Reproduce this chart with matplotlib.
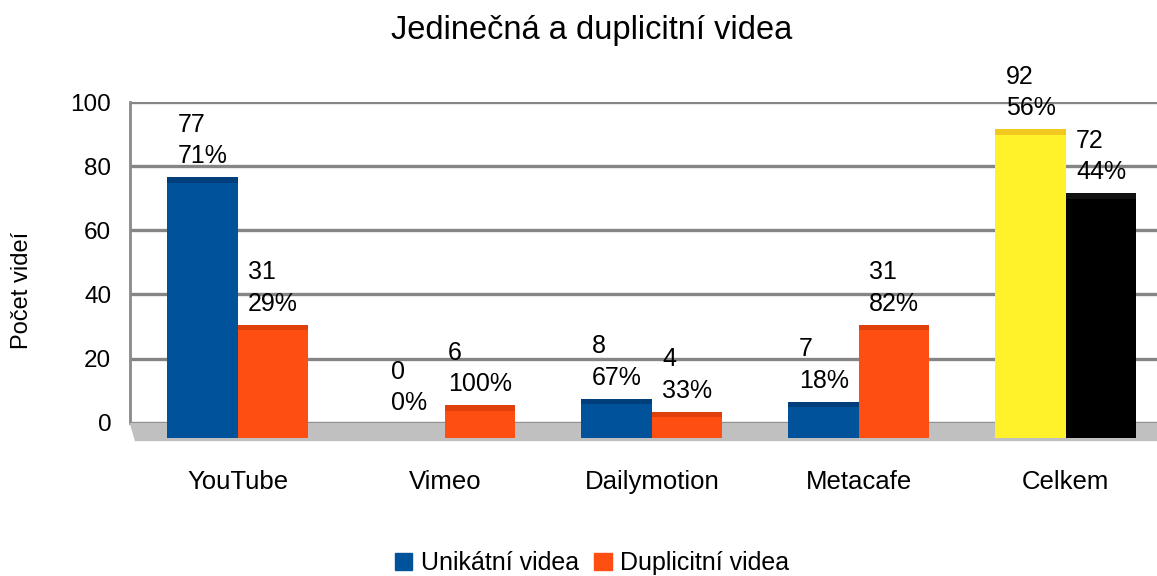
import numpy as np
import matplotlib
matplotlib.use("Agg")
import matplotlib.pyplot as plt
from matplotlib.patches import Patch

plt.rcParams['font.family'] = ['Liberation Sans', 'DejaVu Sans']

categories = ['YouTube', 'Vimeo', 'Dailymotion', 'Metacafe', 'Celkem']
unique = [77, 0, 8, 7, 92]
duplicate = [31, 6, 4, 31, 72]
unique_pct = ['71%', '0%', '67%', '18%', '56%']
duplicate_pct = ['29%', '100%', '33%', '82%', '44%']
yticks = [0, 20, 40, 60, 80, 100]

# colours (last category "Celkem" uses yellow / black)
c_unique = ['#00529b'] * 4 + ['#fff22a']
c_unique_top = ['#003f7c'] * 4 + ['#f0c820']
c_dup = ['#ff4e11'] * 4 + ['#000000']
c_dup_top = ['#e0400c'] * 4 + ['#111111']

# fake 3d: bar front starts below the wall zero line, top face sits slightly back
floor = 4.7
drop = 2.2
cap = 1.7
w = 0.34

fig = plt.figure(figsize=(11.57, 5.76), dpi=100)
ax = fig.add_axes([130 / 1157, 1 - 442 / 576, 1 - 130 / 1157, 340 / 576])

x = np.arange(len(categories))
ax.set_xlim(-0.52, 4.44)
ax.set_ylim(-6, 100)

# back wall grid
for t in yticks:
    ax.axhline(t, color='#858585', lw=2.4, zorder=1)
ax.plot([-0.52, -0.52], [0, 100], color='#8a8a8a', lw=2, zorder=1, clip_on=False)

# floor
ax.fill([-0.52, 4.44, 4.44, -0.495], [0, 0, -5.3, -5.3], color='#c0c0c0', zorder=2)

u = np.array(unique, dtype=float)
d = np.array(duplicate, dtype=float)
u_h = np.where(u > 0, u - drop + floor, 0)
d_h = np.where(d > 0, d - drop + floor, 0)
ax.bar(x - w / 2, u_h, bottom=-floor, width=w, color=c_unique, zorder=3)
ax.bar(x + w / 2, d_h, bottom=-floor, width=w, color=c_dup, zorder=3)
ax.bar(x - w / 2, np.where(u > 0, cap, 0), bottom=u - drop, width=w, color=c_unique_top, zorder=3)
ax.bar(x + w / 2, np.where(d > 0, cap, 0), bottom=d - drop, width=w, color=c_dup_top, zorder=3)

for i in range(len(categories)):
    ax.text(x[i] - w / 2, unique[i] + 2.3, f"{unique[i]}\n{unique_pct[i]}",
            ha='center', va='bottom', multialignment='left', fontsize=18,
            linespacing=1.4, zorder=5, clip_on=False)
    ax.text(x[i] + w / 2, duplicate[i] + 2.3, f"{duplicate[i]}\n{duplicate_pct[i]}",
            ha='center', va='bottom', multialignment='left', fontsize=18,
            linespacing=1.4, zorder=5, clip_on=False)

for s in ax.spines.values():
    s.set_visible(False)
ax.set_yticks(yticks)
ax.set_yticklabels([str(t) for t in yticks], fontsize=17.5)
ax.set_xticks(x)
ax.set_xticklabels(categories, fontsize=18.5)
ax.tick_params(axis='y', length=0, pad=13.5)
ax.tick_params(axis='x', length=0, pad=20)

fig.text(592 / 1157, 1 - 30 / 576, 'Jedinečná a duplicitní videa', fontsize=23.5,
         ha='center', va='center')
fig.text(22 / 1157, 1 - 290 / 576, 'Počet videí', fontsize=17, rotation=90,
         ha='center', va='center')

handles = [Patch(color='#00529b', label='Unikátní videa'),
           Patch(color='#ff4e11', label='Duplicitní videa')]
fig.legend(handles=handles, loc='center', bbox_to_anchor=(592 / 1157, 1 - 563 / 576),
           ncol=2, frameon=False, fontsize=18, handlelength=0.7, handleheight=0.7,
           handletextpad=0.35, columnspacing=0.6, borderaxespad=0)

fig.savefig('out.png', dpi=100)
